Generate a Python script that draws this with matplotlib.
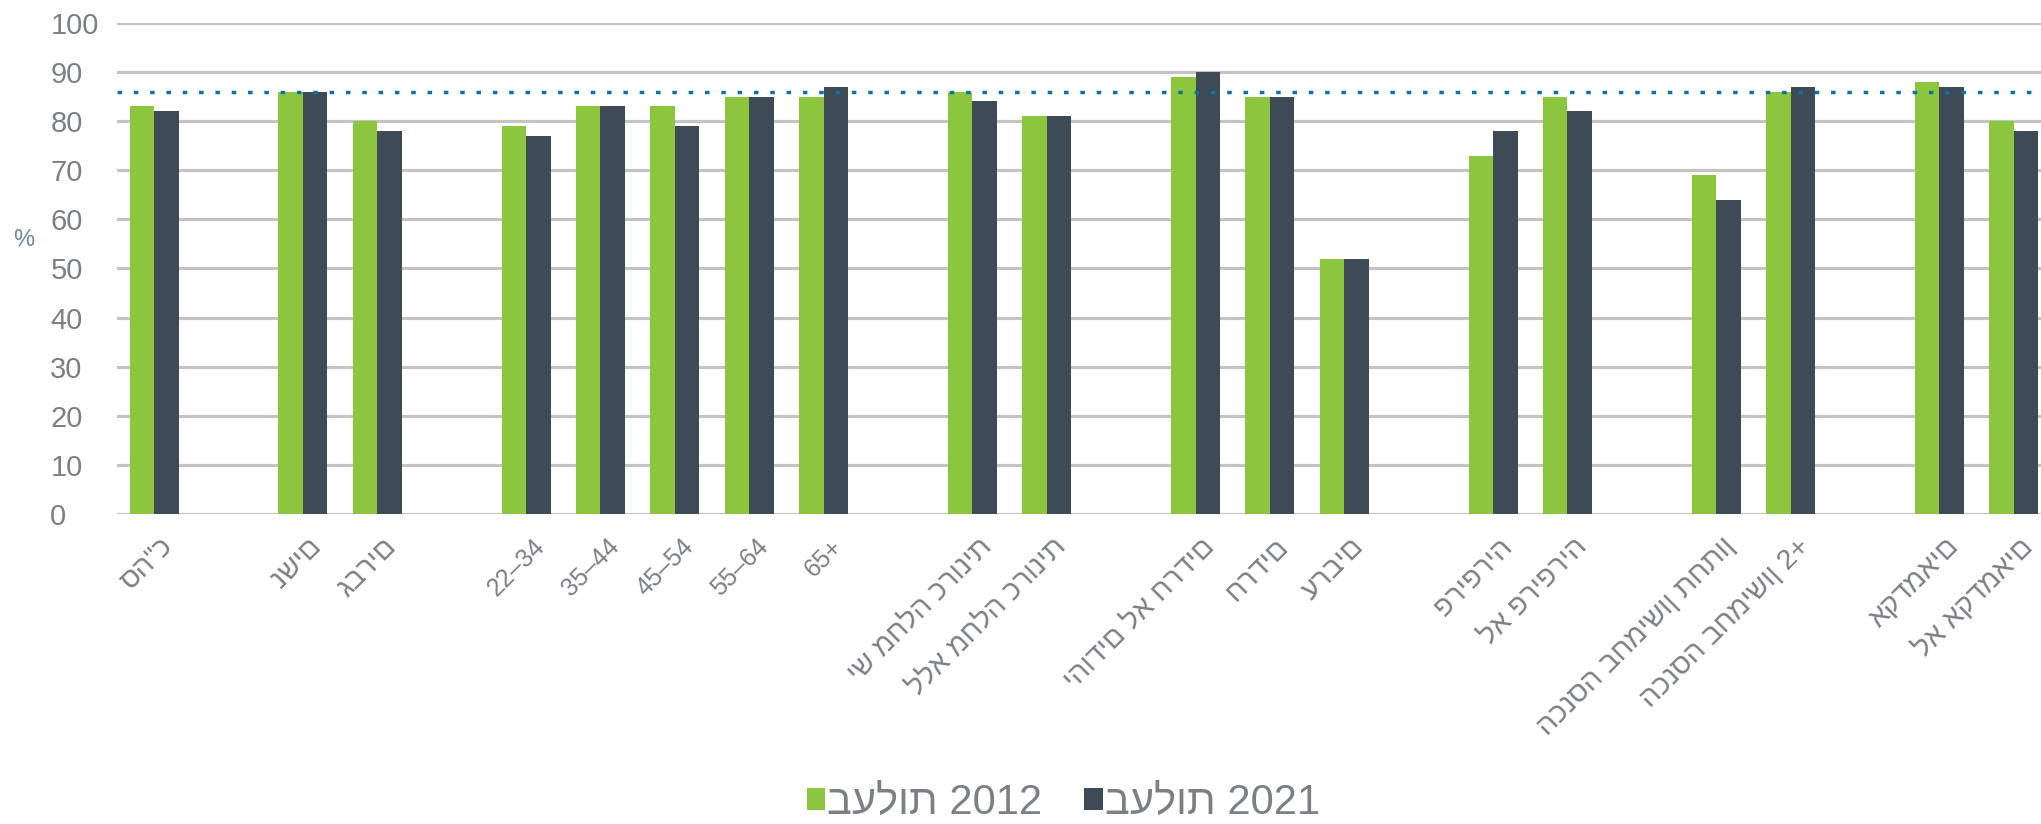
import matplotlib
matplotlib.use("Agg")
import matplotlib.pyplot as plt
import matplotlib.transforms as mtransforms
import numpy as np

plt.rcParams['font.family'] = ['Liberation Sans', 'DejaVu Sans']

# survey groups, left to right
categories = ['סה"כ',
              'נשים', 'גברים',
              '22–34', '35–44', '45–54', '55–64', '65+',
              'יש מחלה כרונית', 'ללא מחלה כרונית',
              'יהודים לא חרדים', 'חרדים', 'ערבים',
              'פריפריה', 'לא פריפריה',
              'הכנסה בחמישון תחתון', 'הכנסה בחמישון 2+',
              'אקדמאים', 'לא אקדמאים']
group_sizes = [1, 2, 5, 2, 3, 2, 2, 2]

own_2012 = [83, 86, 80, 79, 83, 83, 85, 85, 86, 81, 89, 85, 52, 73, 85, 69, 86, 88, 80]
own_2021 = [82, 86, 78, 77, 83, 79, 85, 87, 84, 81, 90, 85, 52, 78, 82, 64, 87, 87, 78]
series_labels = ['בעלות 2012', 'בעלות 2021']
reference_level = 86

GREEN = '#8cc63f'
DARK = '#3e4a55'
GREY_TXT = '#7d8083'

# one empty slot between groups
x = []
slot = 0
for size in group_sizes:
    x.extend(range(slot, slot + size))
    slot += size + 1
x = np.array(x)

fig = plt.figure(figsize=(20.41, 8.24), dpi=100)
ax = fig.add_axes([0.0573, 0.3762, 0.9476, 0.596])

w = 0.33
b1 = ax.bar(x - w / 2, own_2012, w, color=GREEN, zorder=2)
b2 = ax.bar(x + w / 2, own_2021, w, color=DARK, zorder=2)
ax.axhline(reference_level, color='#0a73a8', lw=2.5, ls=(0, (1.3, 3.4)), zorder=3)

ax.set_xlim(-0.5, slot - 1.5)
ax.set_ylim(0, 100)
ax.set_yticks(range(0, 101, 10))
ax.yaxis.grid(True, color='#c4c4c4', lw=2.3, zorder=0)
ax.set_axisbelow(True)
for s in ax.spines.values():
    s.set_visible(False)

# y labels are left aligned near the figure edge
ax.tick_params(axis='y', length=0, pad=48, labelsize=21, labelcolor=GREY_TXT)
for lab in ax.get_yticklabels():
    lab.set_horizontalalignment('left')

ax.set_xticks(x)
ax.set_xticklabels(categories, rotation=45, ha='right', va='center',
                   rotation_mode='anchor', fontsize=18, color=GREY_TXT)
ax.tick_params(axis='x', length=0, pad=28)
shift = mtransforms.ScaledTranslation(0.15, 0.10, fig.dpi_scale_trans)
for lab in ax.get_xticklabels():
    lab.set_transform(lab.get_transform() + shift)
    # Hebrew names are set a little larger than the age ranges
    if not lab.get_text()[0].isdigit():
        lab.set_fontsize(20.5)

fig.text(0.0118, 0.709, '%', fontsize=17, color='#6d8a9c', ha='center', va='center')

fig.legend(handles=[b1, b2], labels=series_labels, loc='center',
           bbox_to_anchor=(0.521, 0.026), ncol=2, frameon=False, fontsize=30,
           handlelength=0.45, handleheight=0.45, handletextpad=0.05,
           columnspacing=1.0, labelcolor=GREY_TXT)

fig.savefig('out.png', dpi=100)
